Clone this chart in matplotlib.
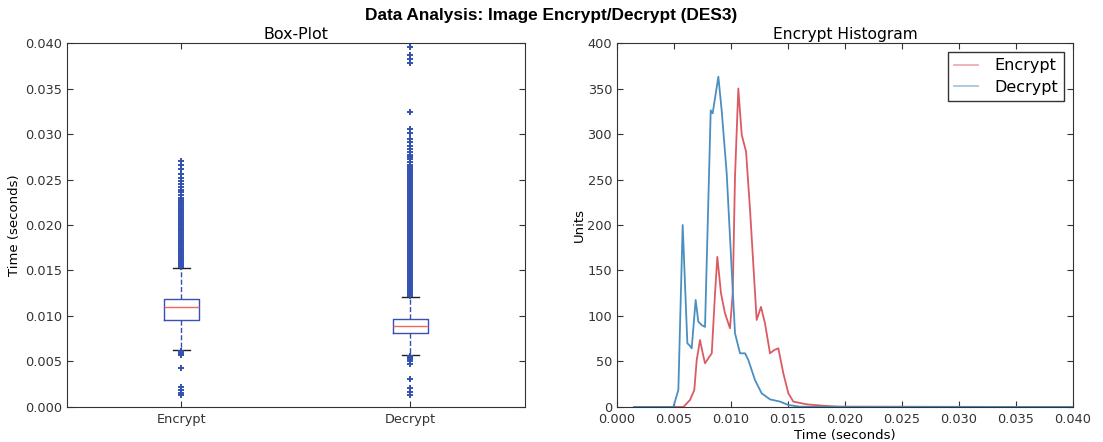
import matplotlib
matplotlib.use("Agg")
import matplotlib.pyplot as plt

# box-plot statistics
box_labels = ["Encrypt", "Decrypt"]
box_q1 = [0.0096, 0.0081]
box_med = [0.0110, 0.0089]
box_q3 = [0.0119, 0.0097]
whisker_lo = [0.0063, 0.0057]
whisker_hi = [0.0153, 0.0121]

enc_fliers = [
    0.0154, 0.0156, 0.0158, 0.0160, 0.0162, 0.0164, 0.0166, 0.0168, 0.0170, 0.0172,
    0.0174, 0.0176, 0.0178, 0.0180, 0.0182, 0.0184, 0.0186, 0.0188, 0.0190, 0.0192,
    0.0194, 0.0196, 0.0198, 0.0200, 0.0202, 0.0204, 0.0206, 0.0208, 0.0210, 0.0212,
    0.0214, 0.0216, 0.0218, 0.0220, 0.0222, 0.0224, 0.0226, 0.0228, 0.0230,
    0.0233, 0.0236, 0.0238, 0.0242, 0.0245, 0.0248, 0.0252, 0.0256, 0.0262, 0.0266, 0.0270,
    0.0057, 0.0058, 0.0059, 0.0060, 0.0061, 0.0062, 0.0043, 0.0022, 0.0019, 0.0015, 0.0013,
]
dec_fliers = [
    0.0122, 0.0124, 0.0126, 0.0128, 0.0130, 0.0132, 0.0134, 0.0136, 0.0138, 0.0140,
    0.0142, 0.0144, 0.0146, 0.0148, 0.0150, 0.0152, 0.0154, 0.0156, 0.0158, 0.0160,
    0.0162, 0.0164, 0.0166, 0.0168, 0.0170, 0.0172, 0.0174, 0.0176, 0.0178, 0.0180,
    0.0182, 0.0184, 0.0186, 0.0188, 0.0190, 0.0192, 0.0194, 0.0196, 0.0198, 0.0200,
    0.0202, 0.0204, 0.0206, 0.0208, 0.0210, 0.0212, 0.0214, 0.0216, 0.0218, 0.0220,
    0.0222, 0.0224, 0.0226, 0.0228, 0.0230, 0.0232, 0.0234, 0.0236, 0.0238, 0.0240,
    0.0242, 0.0244, 0.0246, 0.0248, 0.0250, 0.0252, 0.0254, 0.0256, 0.0258, 0.0260,
    0.0262, 0.0264,
    0.0266, 0.0269, 0.0272, 0.0275, 0.0277, 0.0280, 0.0283, 0.0287, 0.02915, 0.02945,
    0.0301, 0.0305, 0.0324, 0.0378, 0.0382, 0.0387, 0.0396,
    0.0053, 0.0054, 0.0055, 0.0056, 0.0050, 0.0047, 0.0031, 0.0021, 0.0017, 0.0013,
]

# histogram curves (time in seconds, count)
enc_x = [0.0015, 0.00582, 0.0064, 0.00678, 0.00699, 0.00728, 0.00752, 0.00772, 0.00801,
         0.00831, 0.0086, 0.0088, 0.00912, 0.00947, 0.00991, 0.01015, 0.01035, 0.01064,
         0.01094, 0.01132, 0.01167, 0.01225, 0.01263, 0.01298, 0.01342, 0.0138, 0.01415,
         0.01459, 0.01503, 0.01547, 0.01664, 0.0184, 0.01956, 0.0400]
enc_y = [0, 0, 7.7, 18.7, 51.6, 73.6, 59, 48, 53.5, 59, 125, 165, 125, 103, 86.5, 125,
         253, 350, 299, 280.6, 216.5, 95.6, 110, 92, 59, 62.6, 64.5, 37, 15, 5.9, 2.9,
         1.1, 0.3, 0]

dec_x = [0.0015, 0.00494, 0.00538, 0.00576, 0.00617, 0.00634, 0.00655, 0.0069, 0.00713,
         0.00743, 0.00772, 0.00822, 0.00839, 0.00889, 0.00918, 0.00962, 0.01006, 0.01035,
         0.01079, 0.01123, 0.01152, 0.0121, 0.01269, 0.01342, 0.0143, 0.01503, 0.01605,
         0.0400]
dec_y = [0, 0, 18.7, 200, 70, 68, 64.5, 117.6, 93.8, 90, 88, 326, 322.7, 363, 326, 257,
         150.5, 81, 59, 59, 51.6, 29.7, 15, 8.4, 5.9, 2.2, 0.3, 0]

plt.rcParams['font.family'] = ['DejaVu Sans']
fig = plt.figure(figsize=(11.03, 4.42), dpi=100)
fig.suptitle("Data Analysis: Image Encrypt/Decrypt (DES3)", fontsize=12.4,
             fontweight="bold", family="Liberation Sans", y=0.982)

ax1 = fig.add_axes([0.0607, 0.0792, 0.4152, 0.8235])
ax2 = fig.add_axes([0.5594, 0.0792, 0.4134, 0.8235])

stats = []
fl = [enc_fliers, dec_fliers]
for i in range(2):
    stats.append(dict(label=box_labels[i], q1=box_q1[i], med=box_med[i], q3=box_q3[i],
                      whislo=whisker_lo[i], whishi=whisker_hi[i], fliers=fl[i]))

ax1.bxp(stats, widths=0.153,
        boxprops=dict(color="#3a4fb0", linewidth=1),
        medianprops=dict(color="#ef6a5a", linewidth=1),
        whiskerprops=dict(color="#3a4fb0", linestyle="--", linewidth=1),
        capprops=dict(color="#222222", linewidth=1),
        flierprops=dict(marker="+", markeredgecolor="#3352b0", markersize=5,
                        markeredgewidth=1.4))
ax1.set_ylim(0, 0.040)
ax1.set_xlim(0.5, 2.5)
ax1.set_yticks([0.000, 0.005, 0.010, 0.015, 0.020, 0.025, 0.030, 0.035, 0.040])
ax1.set_yticklabels(["%.3f" % v for v in ax1.get_yticks()])
ax1.set_title("Box-Plot", fontsize=11.4, pad=3)
ax1.set_ylabel("Time (seconds)", fontsize=9.5, labelpad=2.5)

ax2.plot(enc_x, enc_y, color="#dc5a63", linewidth=1.3, label="Encrypt")
ax2.plot(dec_x, dec_y, color="#4a8fc2", linewidth=1.3, label="Decrypt")
ax2.set_xlim(0, 0.040)
ax2.set_ylim(0, 400)
ax2.set_xticks([0.000, 0.005, 0.010, 0.015, 0.020, 0.025, 0.030, 0.035, 0.040])
ax2.set_xticklabels(["%.3f" % v for v in ax2.get_xticks()])
ax2.set_title("Encrypt Histogram", fontsize=11.2, pad=3)
ax2.set_xlabel("Time (seconds)", fontsize=9.5, labelpad=2)
ax2.set_ylabel("Units", fontsize=9.5, labelpad=1)
leg = ax2.legend(loc="upper right", fontsize=11.5, fancybox=False, framealpha=1,
                 edgecolor="#333333", borderaxespad=0.55, handlelength=1.5,
                 handletextpad=1.0, labelspacing=0.4)
for h in leg.get_lines():
    h.set_alpha(0.5)

for ax in (ax1, ax2):
    ax.tick_params(direction="in", top=True, right=True, labelsize=9.3,
                   colors="#333333", length=4)
    for s in ax.spines.values():
        s.set_color("#333333")
ax2.tick_params(axis="x", pad=4.5)
ax1.tick_params(axis="x", pad=4.5)

fig.savefig("out.png", dpi=100)
